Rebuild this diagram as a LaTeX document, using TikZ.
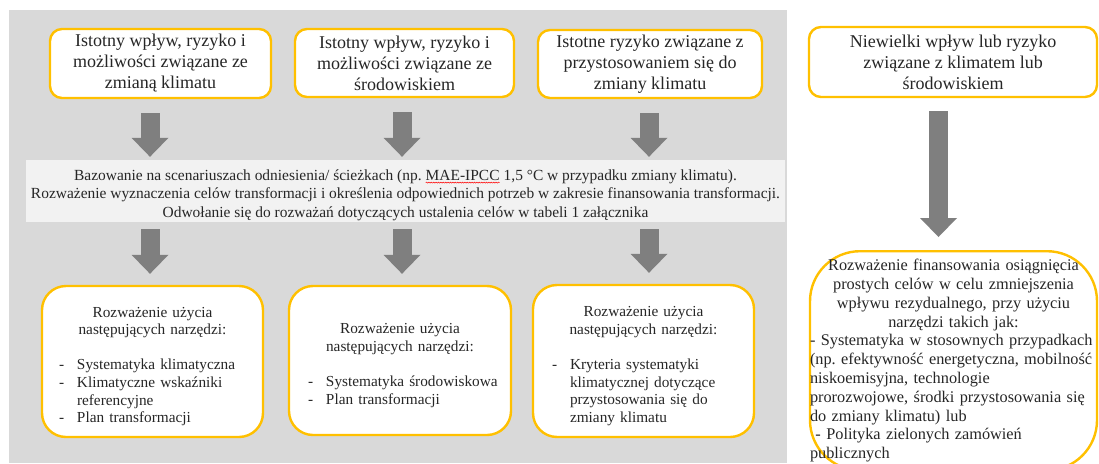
\documentclass[tikz,border=0pt]{standalone}
\usepackage{fontspec}
\setmainfont{Liberation Serif}
\usetikzlibrary{arrows.meta,calc,decorations.pathmorphing}
\definecolor{bggray}{HTML}{D9D9D9}
\definecolor{bandgray}{HTML}{F2F2F2}
\definecolor{gold}{HTML}{FFC000}
\definecolor{arrgray}{HTML}{7F7F7F}
\definecolor{txt}{HTML}{262626}
\setlength{\parindent}{0pt}
\newcommand\fs[2]{\fontsize{#1}{#2}\selectfont}
\newcommand\itm[1]{\mbox{\makebox[18pt][l]{-}#1}}
\newcommand\cont[1]{\mbox{\hspace*{18pt}#1}}
\newcommand\spell[1]{\tikz[baseline=(sp.base)]{\node[inner sep=0pt,outer sep=0pt,minimum width=0pt,minimum height=0pt,fill=none,draw=none](sp){#1};\draw[red,line width=0.5pt,decorate,decoration={snake,amplitude=0.5pt,segment length=2.4pt}]([yshift=-2.4pt]sp.base west)--([yshift=-2.4pt]sp.base east);}}
\begin{document}
\begin{tikzpicture}[x=1pt,y=-1pt,
  topbox/.style={draw=gold, line width=2.4pt, fill=white, rounded corners=12pt, align=center, text=txt, inner sep=0pt, font=\fs{18}{21}},
  botbox/.style={draw=gold, line width=2.4pt, fill=white, rounded corners=24pt, inner sep=0pt},
  bottext/.style={text=txt, inner sep=0pt, font=\fs{15.3}{17.6}},
  bigbox/.style={draw=gold, line width=2.4pt, fill=white, rounded corners=50pt, text=txt, inner xsep=0pt, inner ysep=8pt, font=\fs{16.3}{18.8}},
  bandbox/.style={fill=bandgray, inner sep=0pt},
  bandtext/.style={align=center, text=txt, inner sep=0pt, font=\fs{15.45}{18.5}},
  blk/.style={draw=arrgray, line width=19pt, -{Triangle[width=37pt,length=19pt,line width=0pt]}}
]
\useasboundingbox (0,0) rectangle (1099,463);
\fill[white] (0,0) rectangle (1099,463);
\fill[bggray] (8.5,10) rectangle (787,463);

% top row
\node[topbox, minimum width=221pt, minimum height=69pt] (t1) at (160.5,63.5) {Istotny wpływ, ryzyko i\\możliwości związane ze\\zmianą klimatu};
\node[topbox, minimum width=219pt, minimum height=68pt] (t2) at (404.5,63) {Istotny wpływ, ryzyko i\\możliwości związane ze\\środowiskiem};
\node[topbox, minimum width=224pt, minimum height=68pt] (t3) at (650,64) {Istotne ryzyko związane z\\przystosowaniem się do\\zmiany klimatu};
\node[topbox, minimum width=288pt, minimum height=70pt] (t4) at (953,62) {Niewielki wpływ lub ryzyko\\związane z klimatem lub\\środowiskiem};

% band
\node[bandbox, minimum width=759pt, minimum height=62pt] (band) at (405.5,191) {};
\node[bandtext] (bandtxt) at ($(band.center)+(0,4)$) {Bazowanie na scenariuszach odniesienia/ ścieżkach (np.\ \spell{MAE-IPCC} 1,5 °C w przypadku zmiany klimatu).\\Rozważenie wyznaczenia celów transformacji i określenia odpowiednich potrzeb w zakresie finansowania transformacji.\\Odwołanie się do rozważań dotyczących ustalenia celów w tabeli 1 załącznika};

% bottom row boxes
\node[botbox, minimum width=221pt, minimum height=151pt] (b5) at (152.5,361.5) {};
\node[botbox, minimum width=222pt, minimum height=149pt] (b6) at (400,360.5) {};
\node[botbox, minimum width=221pt, minimum height=152pt] (b7) at (643.5,361) {};
% bottom row texts
\node[bottext, text width=187pt] (b5t) at ($(b5.center)+(0,5)$) {{\centering Rozważenie użycia\\następujących narzędzi:\par}\mbox{}\par\itm{Systematyka klimatyczna}\\\itm{Klimatyczne wskaźniki}\\\cont{referencyjne}\\\itm{Plan transformacji}};
\node[bottext, text width=184pt] (b6t) at ($(b6.center)+(0,5)$) {{\centering Rozważenie użycia\\następujących narzędzi:\par}\mbox{}\par\itm{Systematyka środowiskowa}\\\itm{Plan transformacji}};
\node[bottext, text width=183pt] (b7t) at ($(b7.center)+(0,5)$) {{\centering Rozważenie użycia\\następujących narzędzi:\par}\mbox{}\par\itm{Kryteria systematyki}\\\cont{klimatycznej dotyczące}\\\cont{przystosowania się do}\\\cont{zmiany klimatu}};

\node[bigbox, text width=287pt, anchor=north] (b8) at (953.5,250) {{\centering Rozważenie finansowania osiągnięcia\\prostych celów w celu zmniejszenia\\wpływu rezydualnego, przy użyciu\\narzędzi takich jak:\par}\mbox{- Systematyka w stosownych przypadkach}\\\mbox{(np.\ efektywność energetyczna, mobilność}\\\mbox{niskoemisyjna, technologie}\\\mbox{prorozwojowe, środki przystosowania się}\\\mbox{do zmiany klimatu) lub}\\\mbox{\ - Polityka zielonych zamówień}\\\mbox{publicznych}};

% arrow axes
\coordinate (c1) at (150,0);
\coordinate (c2) at (402,0);
\coordinate (c3) at (649,0);
\coordinate (c4) at (938.5,0);

\draw[blk] ($(t1.south -| c1)+(0,14)$) -- ($(band.north -| c1)+(0,-3)$);
\draw[blk] ($(t2.south -| c2)+(0,14)$) -- ($(band.north -| c2)+(0,-3)$);
\draw[blk] ($(t3.south -| c3)+(0,14)$) -- ($(band.north -| c3)+(0,-3)$);
\draw[blk] ($(band.south -| c1)+(0,7)$) -- ($(b5.north -| c1)+(0,-11)$);
\draw[blk] ($(band.south -| c2)+(0,7)$) -- ($(b6.north -| c2)+(0,-11)$);
\draw[blk] ($(band.south -| c3)+(0,7)$) -- ($(b7.north -| c3)+(0,-11)$);
\draw[blk] ($(t4.south -| c4)+(0,13)$) -- ($(b8.north -| c4)+(0,-13)$);
\end{tikzpicture}
\end{document}
